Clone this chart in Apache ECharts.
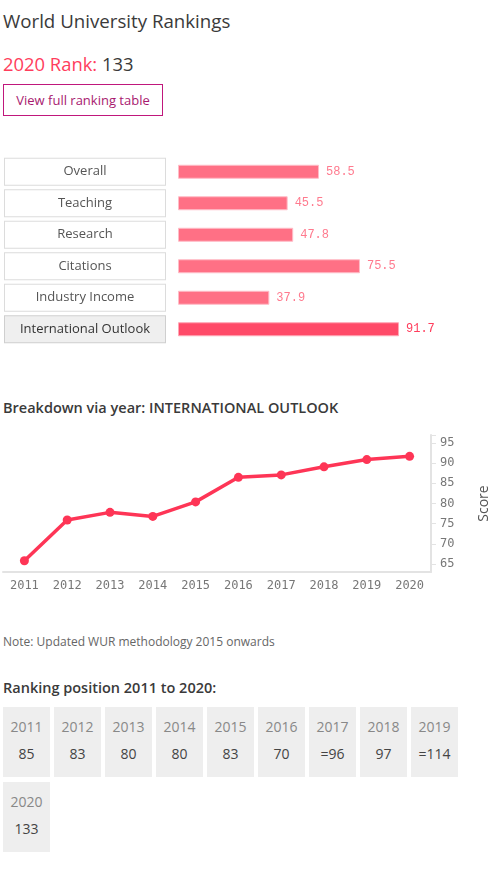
<!DOCTYPE html>
<html>
<head>
<meta charset="utf-8">
<script src="https://cdn.jsdelivr.net/npm/echarts@6/dist/echarts.min.js"></script>
<style>
  html, body { margin:0; padding:0; background:#fff; }
  body { width:499px; height:874px; position:relative; font-family:'Open Sans', sans-serif; overflow:hidden; }
  .abs { position:absolute; }
  #title { left:3px; top:8px; font-size:18.7px; line-height:26px; color:#3a3a3a; }
  #rank { left:3px; top:51px; font-size:18.4px; line-height:26px; color:#3a3a3a; }
  #rank .r { color:#ff3d5c; }
  #btn { left:3px; top:84px; width:158px; height:30px; border:1px solid #c0177c; color:#a8196f; font-size:13px; line-height:30px; text-align:center; }
  #barChart { left:0; top:150px; width:499px; height:200px; }
  #h2 { left:3px; top:397px; font-size:14.5px; line-height:22px; font-weight:600; color:#3a3a3a; }
  #lineChart { left:0; top:420px; width:499px; height:180px; }
  #note { left:3px; top:633px; font-size:12px; line-height:18px; color:#666; }
  #h3 { left:3px; top:677px; font-size:14.5px; line-height:22px; font-weight:600; color:#3a3a3a; }
  #ranks { left:3px; top:707px; width:470px; display:flex; flex-wrap:wrap; column-gap:4px; row-gap:5px; }
  .cell { background:#eeeeee; height:70px; padding:0 7px; text-align:center; font-size:14px; box-sizing:border-box; min-width:47px; }
  .cell .y { color:#888; margin-top:9px; line-height:22px; }
  .cell .p { color:#444; margin-top:5px; line-height:22px; }
</style>
</head>
<body>
<div id="title" class="abs">World University Rankings</div>
<div id="rank" class="abs"><span class="r">2020 Rank:</span> 133</div>
<div id="btn" class="abs">View full ranking table</div>
<div id="barChart" class="abs"></div>
<div id="h2" class="abs">Breakdown via year: INTERNATIONAL OUTLOOK</div>
<div id="lineChart" class="abs"></div>
<div id="note" class="abs">Note: Updated WUR methodology 2015 onwards</div>
<div id="h3" class="abs">Ranking position 2011 to 2020:</div>
<div id="ranks" class="abs"></div>
<script>
const categories = ['Overall', 'Teaching', 'Research', 'Citations', 'Industry Income', 'International Outlook'];
const scores = [58.5, 45.5, 47.8, 75.5, 37.9, 91.7];
const highlighted = 'International Outlook';

const years = ['2011', '2012', '2013', '2014', '2015', '2016', '2017', '2018', '2019', '2020'];
const intlOutlook = [65.8, 75.9, 77.8, 76.8, 80.4, 86.5, 87.1, 89.1, 90.9, 91.7];
const scoreTicks = [65, 70, 75, 80, 85, 90, 95];

const rankYears = ['2011', '2012', '2013', '2014', '2015', '2016', '2017', '2018', '2019', '2020'];
const rankPositions = ['85', '83', '80', '80', '83', '70', '=96', '97', '=114', '133'];

// Ranking cells
const ranksEl = document.getElementById('ranks');
rankYears.forEach((y, i) => {
  const d = document.createElement('div');
  d.className = 'cell';
  const a = document.createElement('div'); a.className = 'y'; a.textContent = y;
  const b = document.createElement('div'); b.className = 'p'; b.textContent = rankPositions[i];
  d.appendChild(a); d.appendChild(b);
  ranksEl.appendChild(d);
});

const barChart = echarts.init(document.getElementById('barChart'), null, { renderer: 'canvas' });
barChart.setOption({
  animation: false,
  grid: { left: 178, top: 6, width: 241, height: 189 },
  xAxis: { type: 'value', min: 0, max: 100, show: false },
  yAxis: {
    type: 'category', inverse: true, data: categories,
    axisLine: { show: false }, axisTick: { show: false }, splitLine: { show: false },
    axisLabel: {
      margin: 13,
      formatter: v => (v === highlighted ? '{hl|' + v + '}' : '{n|' + v + '}'),
      rich: {
        n: { width: 160, height: 26, lineHeight: 26, align: 'center', fontFamily: 'Open Sans', fontSize: 13,
             color: '#555', backgroundColor: '#fff', borderColor: '#dcdcdc', borderWidth: 1 },
        hl: { width: 160, height: 26, lineHeight: 26, align: 'center', fontFamily: 'Open Sans', fontSize: 13,
              color: '#333', backgroundColor: '#efefef', borderColor: '#cfcfcf', borderWidth: 1 }
      }
    }
  },
  series: [{
    type: 'bar', barWidth: 14,
    data: scores.map((v, i) => ({
      value: v,
      itemStyle: categories[i] === highlighted ? { color: '#ff4a68', borderColor: '#ffa6b5' } : undefined,
      label: categories[i] === highlighted ? { color: '#ff3d5c' } : undefined
    })),
    itemStyle: { color: '#ff7085', borderColor: '#ffbcc7', borderWidth: 1 },
    label: { show: true, position: 'right', distance: 7, fontFamily: 'Liberation Mono', fontSize: 12, color: '#ff7a8e' }
  }]
});

const lineChart = echarts.init(document.getElementById('lineChart'), null, { renderer: 'canvas' });
lineChart.setOption({
  animation: false,
  grid: { left: 3, top: 15, width: 431, height: 137 },
  xAxis: {
    type: 'category', data: years, boundaryGap: true,
    axisLine: { lineStyle: { color: '#e3e3e3', width: 2 } },
    axisTick: { alignWithLabel: true, length: 5, lineStyle: { color: '#e3e3e3' } },
    axisLabel: { margin: 8, fontFamily: 'DejaVu Sans Mono', fontSize: 12, color: '#777' }
  },
  yAxis: {
    type: 'value', position: 'right', min: 63, max: 97,
    splitLine: { show: false },
    axisLine: { show: true, lineStyle: { color: '#e3e3e3', width: 2 } },
    axisTick: { show: true, length: 5, customValues: scoreTicks.concat([97]), lineStyle: { color: '#e3e3e3' } },
    axisLabel: { customValues: scoreTicks, margin: 9, fontFamily: 'DejaVu Sans Mono', fontSize: 12, color: '#777' },
    name: 'Score', nameLocation: 'middle', nameRotate: 90, nameGap: 46,
    nameTextStyle: { fontFamily: 'Open Sans', fontSize: 14, color: '#555' }
  },
  series: [{
    type: 'line', data: intlOutlook, symbol: 'circle', symbolSize: 9,
    lineStyle: { width: 3.5, color: '#fe3556' }, itemStyle: { color: '#fe3556' }
  }]
});
</script>
</body>
</html>
